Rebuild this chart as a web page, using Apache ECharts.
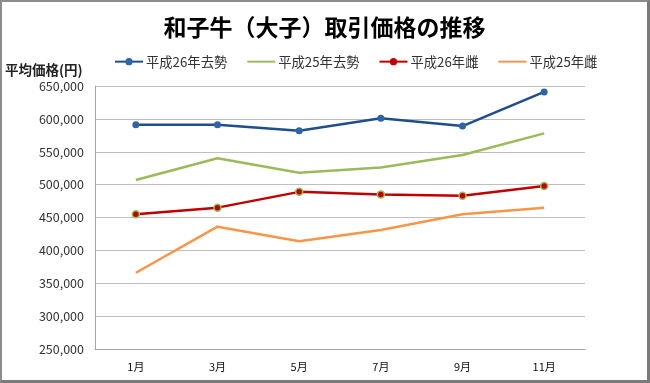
<!DOCTYPE html>
<html><head><meta charset="utf-8">
<script src="https://cdn.jsdelivr.net/npm/echarts@6/dist/echarts.min.js"></script>
<style>
html,body{margin:0;padding:0;background:#fff;}
#wrap{position:absolute;left:0;top:0;width:650px;height:383px;box-sizing:border-box;border-top:2px solid #8c8c8c;border-left:2px solid #8c8c8c;border-right:3px solid #7a7a7a;border-bottom:3px solid #7a7a7a;}
#c{width:645px;height:378px;}
</style></head>
<body><div id="wrap"><div id="c"></div></div>
<script>
const categories = ['1月','3月','5月','7月','9月','11月'];
const h26Steer = [591000, 591000, 582000, 601000, 589000, 641000];
const h25Steer = [507000, 540000, 518000, 526000, 545000, 578000];
const h26Heifer = [455000, 465000, 489000, 485000, 483000, 498000];
const h25Heifer = [366000, 436000, 414000, 431000, 455000, 465000];
const seriesNames = ['平成26年去勢','平成25年去勢','平成26年雌','平成25年雌'];

const font = '"Noto Sans CJK JP", sans-serif';
const chart = echarts.init(document.getElementById('c'));
function line(name, data, color, marker, markerColor, borderColor){
  return {
    name, type:'line', data,
    symbol: marker ? 'circle' : 'none',
    symbolSize: 7,
    showSymbol: marker,
    lineStyle:{color, width:2.5},
    itemStyle:{color: markerColor || color, borderColor: borderColor || markerColor || color, borderWidth: borderColor ? 1.5 : 0},
    animation:false
  };
}
chart.setOption({
  animation:false,
  textStyle:{fontFamily:font},
  title:{text:'和子牛（大子）取引価格の推移', left:'center', top:9,
    textStyle:{fontFamily:font, fontSize:23, fontWeight:'bold', color:'#000'}},
  legend:{top:48, left:107, itemGap:19, itemWidth:28, itemHeight:9,
    textStyle:{fontFamily:font, fontSize:13.3, color:'#333', padding:[0,0,0,-2]},
    data: [
      {name:seriesNames[0]},
      {name:seriesNames[1], itemStyle:{opacity:0}},
      {name:seriesNames[2], itemStyle:{borderWidth:0}},
      {name:seriesNames[3], itemStyle:{opacity:0}}
    ]},
  grid:{left:92, right:62, top:84, bottom:31},
  xAxis:{type:'category', data:categories, boundaryGap:true,
    axisLine:{lineStyle:{color:'#a6a6a6', width:1}},
    axisTick:{show:false},
    axisLabel:{fontFamily:font, fontSize:11, color:'#111', margin:12}},
  yAxis:{type:'value', min:250000, max:650000, interval:50000,
    name:'平均価格(円)', nameLocation:'end', nameGap:9,
    nameTextStyle:{fontFamily:font, fontSize:13.5, fontWeight:'bold', color:'#222', align:'left', padding:[0,0,0,-90]},
    axisLine:{show:true, lineStyle:{color:'#a6a6a6'}},
    axisTick:{show:false},
    splitLine:{lineStyle:{color:'#bfbfbf'}},
    axisLabel:{fontFamily:font, fontSize:12.5, color:'#333', margin:11,
      formatter:v=>v.toLocaleString('en-US')}},
  series:[
    line(seriesNames[0], h26Steer, '#1f4e8c', true, '#2e64a8'),
    line(seriesNames[1], h25Steer, '#9bbb59', false),
    line(seriesNames[2], h26Heifer, '#c00000', true, '#c00000', '#9bbb59'),
    line(seriesNames[3], h25Heifer, '#f79646', false)
  ]
});
</script></body></html>
